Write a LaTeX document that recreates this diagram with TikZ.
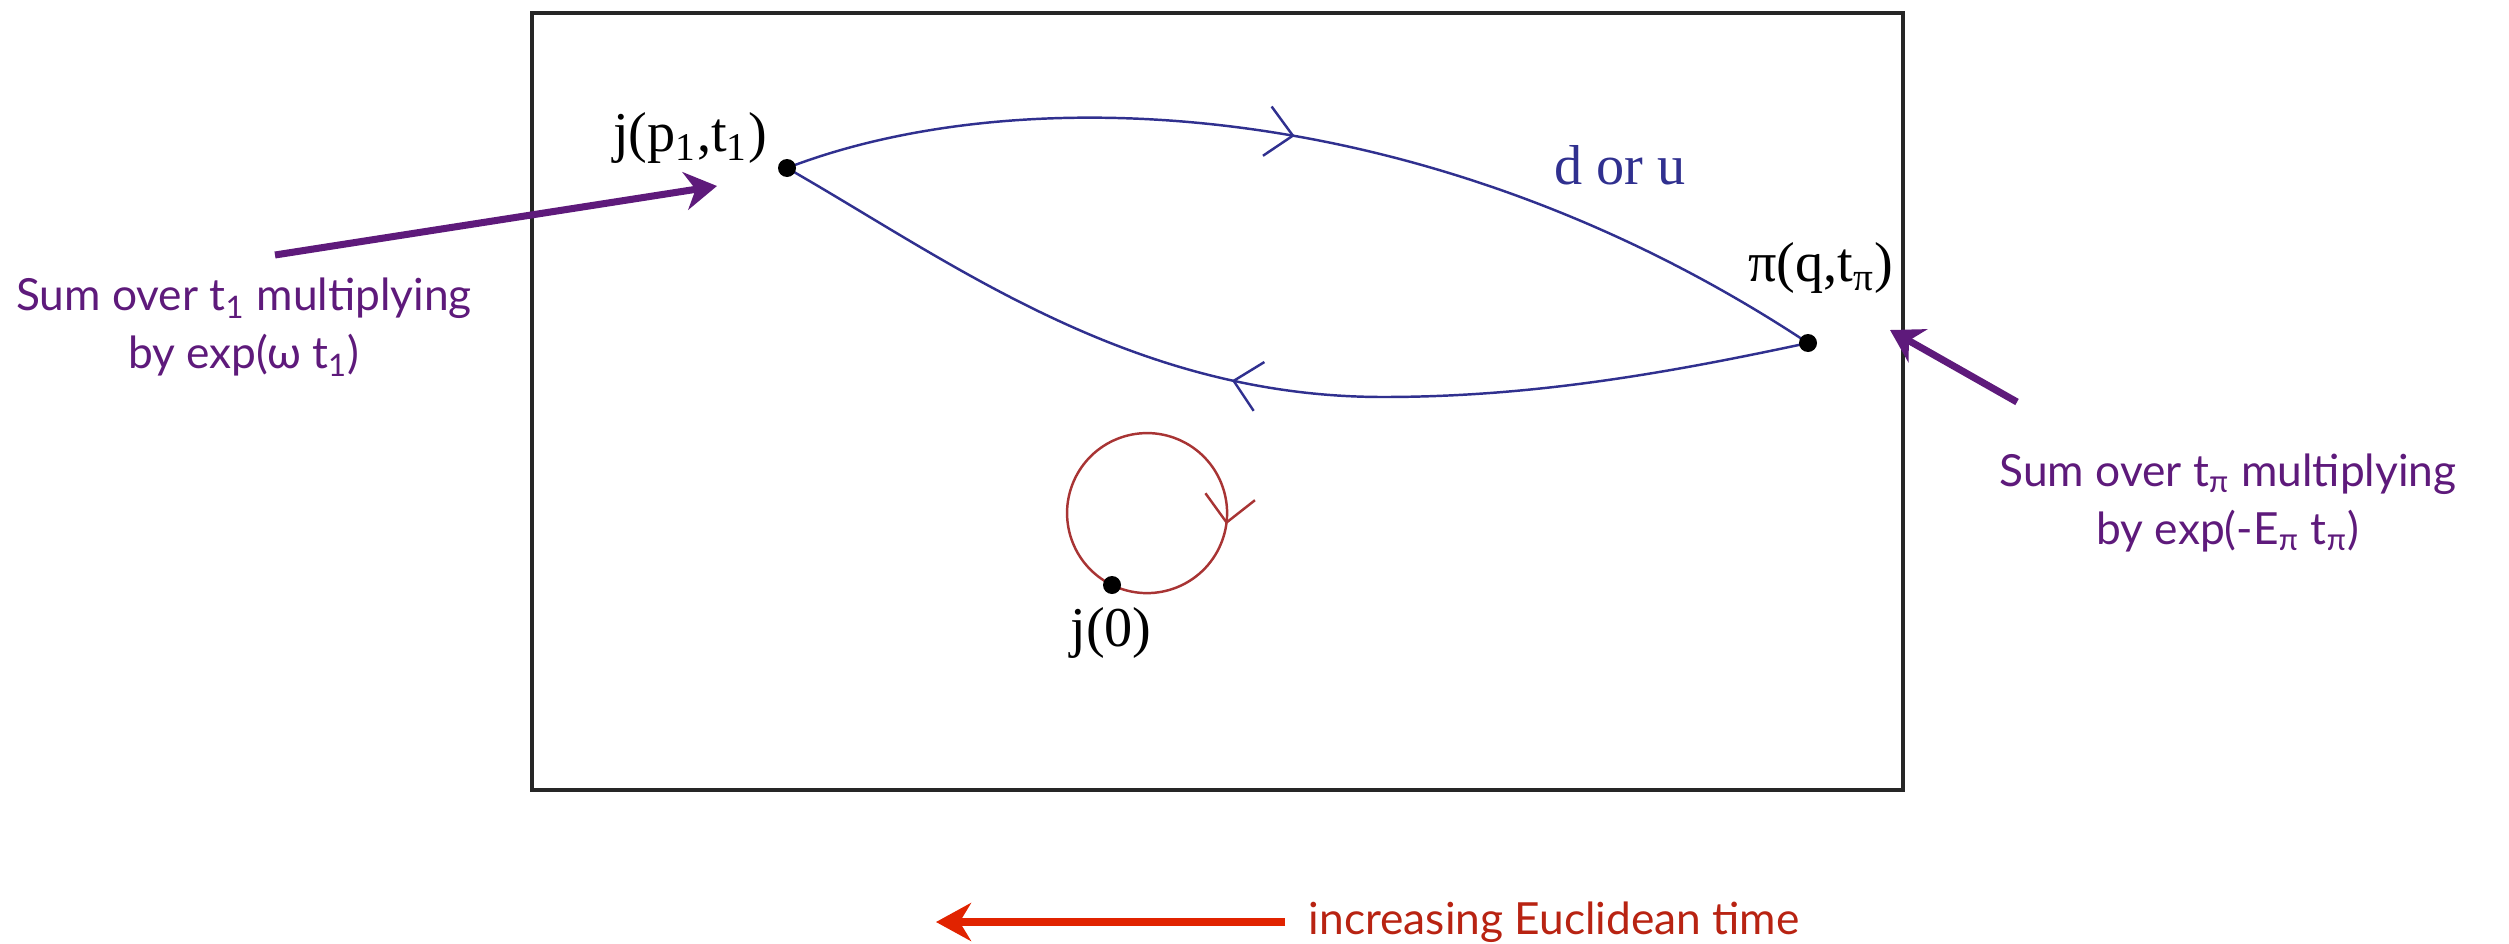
\documentclass[tikz,border=0pt]{standalone}
\usepackage{fontspec}
\setmainfont{Liberation Serif}
\newfontfamily\gillfont{Lato}
\usetikzlibrary{arrows.meta, decorations.markings, positioning}
\definecolor{lineBlue}{HTML}{30308F}
\definecolor{loopRed}{HTML}{A83434}
\definecolor{notePurple}{HTML}{5E1A7B}
\definecolor{timeRed}{HTML}{E12300}
\definecolor{timeText}{HTML}{B82312}
\tikzset{
  vertex/.style={circle, fill=black, inner sep=0pt, minimum size=1.8mm},
  vlabel/.style={font=\fontsize{16}{18}\selectfont, inner sep=1pt},
  quark/.style={line width=0.7pt, decoration={markings, mark=at position #1 with {\arrow{Straight Barb[length=2.6mm,width=5mm]}}}, postaction={decorate}},
  note/.style={text=notePurple, font=\gillfont\fontsize{12.6}{16.5}\selectfont, align=center},
  pointer/.style={-{Stealth[length=3.2mm,width=3.8mm]}, notePurple, line width=2pt}
}
\begin{document}
\begin{tikzpicture}
\useasboundingbox (0,0) rectangle (25.09,9.43);
\draw[line width=0.9pt, black!85] (5.32,1.53) rectangle (19.03,9.30);

\coordinate (j1) at (7.87,7.75);
\coordinate (pi) at (18.08,6.00);
\coordinate (low) at (13.83,5.46);
\coordinate (j0) at (11.12,3.58);

\draw[quark=0.48, lineBlue] (j1) .. controls (10.2,8.65) and (14.3,8.5) .. (pi);
\draw[quark=0.54, lineBlue] (pi) .. controls (16.68,5.70) and (15.33,5.46) .. (low) .. controls (11.3,5.46) and (9.5,6.82) .. (j1);
\draw[quark=0.70, loopRed] (j0) arc[start angle=244, end angle=-116, radius=0.8];

\node[vertex] (j1dot) at (j1) {};
\node[vertex] (pidot) at (pi) {};
\node[vertex] (j0dot) at (j0) {};

\node[vlabel] (j1lab) at (6.90,8.05) {j(p\textsubscript{1},t\textsubscript{1})};
\node[vlabel] (pilab) at (18.21,6.75) {π(q,t\textsubscript{π})};
\node[vlabel] (j0lab) at (11.11,3.10) {j(0)};
\node[vlabel, text=lineBlue] (flav) at (16.20,7.78) {d or u};

\node[note] (t1note) at (2.44,6.16) {Sum over t\textsubscript{1} multiplying\\by exp(ω t\textsubscript{1})};
\node[note] (tpinote) at (22.28,4.40) {Sum over t\textsubscript{π} multiplying\\by exp(-E\textsubscript{π} t\textsubscript{π})};
\coordinate (t1tail) at (2.75,6.88);
\coordinate (t1head) at (7.17,7.57);
\coordinate (tpitail) at (20.17,5.41);
\coordinate (tpihead) at (18.90,6.13);
\draw[pointer] (t1tail) -- (t1head);
\draw[pointer] (tpitail) -- (tpihead);

\node[anchor=west, inner sep=0pt, text=timeText, font=\gillfont\fontsize{12.6}{16}\selectfont] (timelab) at (13.08,0.21) {increasing Euclidean time};
\coordinate (timetail) at (12.85,0.21);
\coordinate (timehead) at (9.36,0.21);
\draw[-{Stealth[length=3.5mm,width=3.8mm]}, timeRed, line width=2pt] (timetail) -- (timehead);
\end{tikzpicture}
\end{document}
